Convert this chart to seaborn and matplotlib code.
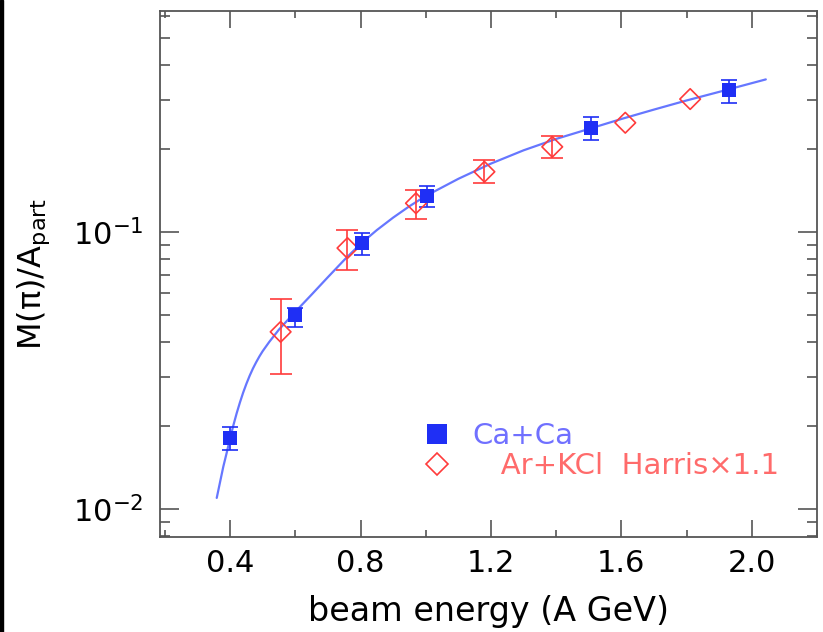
import numpy as np
import seaborn as sns
import matplotlib.pyplot as plt
import matplotlib.ticker as mticker
from matplotlib.lines import Line2D
from matplotlib.patches import Rectangle


# Ca+Ca (blue squares): beam energy, M(pi)/A_part and error bar ends.
ca_energy = [0.40, 0.60, 0.805, 1.005, 1.508, 1.93]
ca_value = [0.0180, 0.0500, 0.0915, 0.1349, 0.237, 0.326]
ca_low = [0.0163, 0.0455, 0.0826, 0.1234, 0.2147, 0.293]
ca_high = [0.0198, 0.0531, 0.0989, 0.1466, 0.2596, 0.354]

# Ar+KCl Harris x1.1 (red diamonds); last two points carry no error bar.
ar_energy = [0.555, 0.760, 0.970, 1.180, 1.388, 1.612, 1.811]
ar_value = [0.0436, 0.0875, 0.127, 0.165, 0.203, 0.248, 0.302]
ar_low = [0.0307, 0.0729, 0.111, 0.150, 0.1854, np.nan, np.nan]
ar_high = [0.0573, 0.1017, 0.1418, 0.182, 0.2223, np.nan, np.nan]

# Fit curve.
fit_energy = [0.359, 0.379, 0.390, 0.400, 0.410, 0.420, 0.430, 0.440, 0.450,
              0.460, 0.470, 0.480, 0.490, 0.500, 0.520, 0.550, 0.600, 0.650,
              0.700, 0.750, 0.800, 0.850, 0.900, 0.950, 1.000, 1.100, 1.200,
              1.300, 1.400, 1.500, 1.600, 1.700, 1.800, 1.900, 2.043]
fit_value = [0.01096, 0.01419, 0.01603, 0.01799, 0.02004, 0.02213, 0.02421,
             0.02630, 0.02831, 0.03027, 0.03214, 0.03388, 0.03556, 0.03715,
             0.04009, 0.04446, 0.05152, 0.05943, 0.06871, 0.07925, 0.09057,
             0.1016, 0.1127, 0.1239, 0.1349, 0.1556, 0.1766, 0.1972, 0.2168,
             0.2355, 0.2559, 0.2767, 0.2985, 0.3206, 0.3556]

LEGEND_LABELS = ["Ca+Ca", "   Ar+KCl  Harris\u00d71.1"]

BLUE = "#1f2ff5"
LINE_BLUE = "#6677ff"
RED = "#ff3b3b"
SPINE = "#555555"

sns.set_style("ticks")
plt.rcParams["font.family"] = ["DejaVu Sans"]
plt.rcParams["mathtext.fontset"] = "dejavusans"

fig = plt.figure(figsize=(8.23, 6.32), dpi=100)
ax = fig.add_axes([160 / 823, 1 - 537 / 632, 657 / 823, 526 / 632])
ax.set_yscale("log")

# Fit curve.
sns.lineplot(x=fit_energy, y=fit_value, sort=False, estimator=None,
             color=LINE_BLUE, lw=1.6, ax=ax, zorder=2)

# Error bars.
ca_v = np.array(ca_value)
ax.errorbar(ca_energy, ca_value,
            yerr=[ca_v - np.array(ca_low), np.array(ca_high) - ca_v],
            fmt="none", ecolor=BLUE, elinewidth=1.2, capsize=6, capthick=1.2,
            zorder=3)
ar_v = np.array(ar_value)
mask = ~np.isnan(np.array(ar_low))
ax.errorbar(np.array(ar_energy)[mask], ar_v[mask],
            yerr=[(ar_v - np.array(ar_low))[mask],
                  (np.array(ar_high) - ar_v)[mask]],
            fmt="none", ecolor=RED, elinewidth=1.2, capsize=8, capthick=1.2,
            zorder=3)

# Markers.
sns.scatterplot(x=ar_energy, y=ar_value, marker="D", s=110,
                facecolor="none", edgecolor=RED, linewidth=1.2, ax=ax,
                zorder=4)
sns.scatterplot(x=ca_energy, y=ca_value, marker="s", s=100,
                color=BLUE, edgecolor=BLUE, linewidth=0, ax=ax, zorder=5)

# Axes limits and ticks.
ax.set_xlim(0.185, 2.2)
ax.set_ylim(0.00792, 0.628)
ax.xaxis.set_major_locator(mticker.MultipleLocator(0.4))
ax.xaxis.set_minor_locator(mticker.MultipleLocator(0.2))
ax.xaxis.set_major_formatter(mticker.FormatStrFormatter("%.1f"))
ax.yaxis.set_major_locator(mticker.LogLocator(base=10))
ax.yaxis.set_minor_locator(mticker.LogLocator(base=10, subs=range(2, 10)))
ax.yaxis.set_minor_formatter(mticker.NullFormatter())

ax.tick_params(which="both", direction="in", top=True, right=True,
               color=SPINE, width=1.2, labelcolor="black")
ax.tick_params(axis="x", which="major", length=12, labelsize=22, pad=9)
ax.tick_params(axis="x", which="minor", length=5)
ax.tick_params(axis="y", which="major", length=14, labelsize=22, pad=12)
ax.tick_params(axis="y", which="minor", length=7)
for spine in ax.spines.values():
    spine.set_color(SPINE)
    spine.set_linewidth(1.3)

ax.set_xlabel("beam energy (A GeV)", fontsize=24, labelpad=12, color="black")
ax.set_ylabel("M(\u03c0)/A$_{\\mathregular{part}}$", fontsize=23,
              labelpad=15, color="black")

# Legend.
handles = [
    Line2D([], [], marker="s", ls="none", color=BLUE, ms=15, mew=0),
    Line2D([], [], marker="D", ls="none", mfc="none", mec=RED, ms=11, mew=1.2),
]
leg = ax.legend(handles, LEGEND_LABELS, loc="upper left",
                bbox_to_anchor=(0.396, 0.218), frameon=False, fontsize=21,
                handlelength=1.15, handletextpad=0.65, labelspacing=0.05,
                borderpad=0, borderaxespad=0)
for txt, col in zip(leg.get_texts(), ["#7070ff", "#ff6b6b"]):
    txt.set_color(col)

# Thin black strip along the left edge of the picture.
fig.add_artist(Rectangle((0, 0), 3 / 823, 1, transform=fig.transFigure,
                         color="black", zorder=10))

fig.savefig("out.png", dpi=100)
